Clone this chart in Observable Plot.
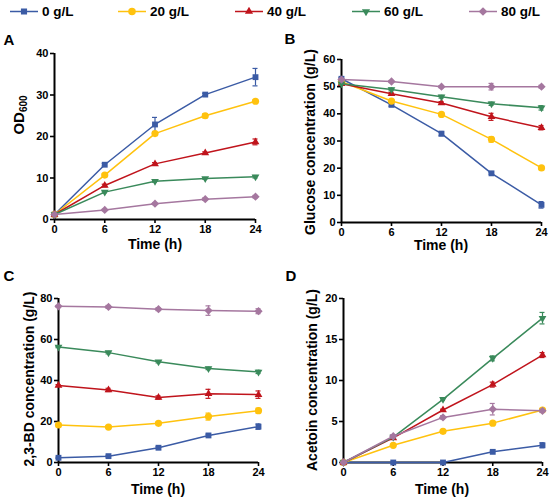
<!DOCTYPE html>
<html><head><meta charset="utf-8">
<script src="https://cdn.jsdelivr.net/npm/d3@7"></script>
<script src="https://cdn.jsdelivr.net/npm/@observablehq/plot@0.6"></script>
<style>
body{margin:0;background:#fff;}
#root{position:relative;width:550px;height:500px;font-family:"Liberation Sans",Arial,sans-serif;font-weight:bold;color:#000;overflow:hidden;}
.pl{position:absolute;}
.pl svg{overflow:visible;}
.lbl{position:absolute;white-space:nowrap;transform:translate(-50%,-50%);line-height:1;}
.ylab{position:absolute;white-space:nowrap;transform:translate(-50%,-50%) rotate(-90deg);font-size:14px;line-height:1;}
.leg{position:absolute;display:flex;align-items:center;font-size:13.5px;white-space:nowrap;transform:translateY(-50%);}
.leg svg{margin-right:4px;}
sub{font-size:10px;vertical-align:-3px;}
</style></head>
<body><div id="root"></div>
<script>
// ---- data ----
const concentrations = ["0 g/L", "20 g/L", "40 g/L", "60 g/L", "80 g/L"];
const colors = ["#3B5BA5", "#FFC20E", "#C0141C", "#3A8A5B", "#A5779F"];
const times = [0, 6, 12, 18, 24];

const od600 = [
  [1.2, 13.2, 22.9, 30.1, 34.3],
  [1.2, 10.7, 20.7, 25.0, 28.5],
  [1.2, 8.2, 13.4, 16.0, 18.7],
  [1.2, 6.6, 9.2, 9.9, 10.3],
  [1.2, 2.3, 3.8, 4.9, 5.5]
];
const od600Err = [
  [0.1, 0.3, 1.7, 0.3, 2.1],
  [0.1, 0.3, 0.3, 0.5, 0.3],
  [0.1, 0.3, 0.3, 0.3, 0.7],
  [0.1, 0.2, 0.2, 0.2, 0.3],
  [0.1, 0.2, 0.2, 0.3, 0.3]
];
const glucose = [
  [52.9, 43.3, 32.7, 18.1, 6.5],
  [51.8, 44.7, 39.8, 30.6, 20.1],
  [51.1, 47.4, 44.0, 38.9, 34.9],
  [51.1, 49.0, 46.3, 43.7, 42.2],
  [52.6, 51.9, 50.0, 50.0, 50.0]
];
const glucoseErr = [
  [0.5, 0.5, 0.8, 0.3, 1.2],
  [0.3, 0.5, 0.5, 1.0, 0.6],
  [0.3, 0.5, 0.5, 1.3, 0.8],
  [0.3, 0.5, 0.5, 0.6, 0.8],
  [0.3, 0.4, 0.4, 1.2, 0.5]
];
const butanediol = [
  [2.3, 3.1, 7.2, 13.2, 17.5],
  [18.3, 17.3, 19.1, 22.4, 25.3],
  [37.6, 35.4, 31.7, 33.5, 33.1],
  [56.3, 53.6, 49.1, 45.9, 44.2],
  [76.2, 75.9, 74.8, 74.1, 73.8]
];
const butanediolErr = [
  [0.3, 0.4, 0.5, 0.6, 1.3],
  [0.4, 0.6, 0.6, 1.7, 1.2],
  [0.4, 0.8, 0.8, 2.2, 1.8],
  [0.3, 0.6, 0.5, 0.6, 0.8],
  [0.4, 0.7, 0.7, 2.3, 1.2]
];
const acetoin = [
  [0, 0, 0, 1.3, 2.1],
  [0, 2.1, 3.8, 4.8, 6.4],
  [0, 3.0, 6.4, 9.5, 13.1],
  [0, 3.1, 7.7, 12.7, 17.6],
  [0, 3.2, 5.5, 6.5, 6.3]
];
const acetoinErr = [
  [0, 0, 0, 0.1, 0.3],
  [0, 0.1, 0.1, 0.1, 0.2],
  [0, 0.1, 0.1, 0.3, 0.3],
  [0, 0.1, 0.1, 0.3, 0.7],
  [0, 0.2, 0.2, 0.7, 0.2]
];
const panelLetters = ["A", "B", "C", "D"];
const yTitles = ["OD<sub>600</sub>", "Glucose concentration (g/L)", "2,3-BD concentration (g/L)", "Acetoin concentration (g/L)"];
const xTitle = "Time (h)";
const yTicksA = [0, 10, 20, 30, 40];
const yTicksB = [0, 10, 20, 30, 40, 50, 60];
const yTicksC = [0, 20, 40, 60, 80];
const yTicksD = [0, 5, 10, 15, 20];

// ---- symbols ----
const triangleDown = {
  draw(context, size) {
    const y = -Math.sqrt(size / (Math.sqrt(3) * 3));
    context.moveTo(0, -y * 2);
    context.lineTo(-Math.sqrt(3) * y, y);
    context.lineTo(Math.sqrt(3) * y, y);
    context.closePath();
  }
};
const diamondSq = {
  draw(context, size) {
    const r = Math.sqrt(size / 2);
    context.moveTo(0, -r);
    context.lineTo(r, 0);
    context.lineTo(0, r);
    context.lineTo(-r, 0);
    context.closePath();
  }
};
const symbols = [d3.symbolSquare, d3.symbolCircle, d3.symbolTriangle, triangleDown, diamondSq];
const symbolR = [3.3, 3.6, 2.9, 2.9, 3.3];

const root = document.getElementById("root");

// ---- legend ----
const legendLeft = [10, 118, 235, 352, 469];
concentrations.forEach((c, i) => {
  const div = document.createElement("div");
  div.className = "leg";
  div.style.left = legendLeft[i] + "px";
  div.style.top = "11px";
  const size = symbolR[i] * symbolR[i] * Math.PI * 1.1;
  const path = d3.symbol(symbols[i], size)();
  div.innerHTML = `<svg width="28" height="12" viewBox="0 0 28 12"><line x1="0" x2="28" y1="6" y2="6" stroke="${colors[i]}" stroke-width="1.6"/><path d="${path}" transform="translate(14,6)" fill="${colors[i]}"/></svg><span>${c}</span>`;
  root.appendChild(div);
});

// ---- panels ----
const panels = [
  {values: od600, errors: od600Err, domain: [0, 40], ticks: yTicksA, left: 0, top: 30, height: 220, mL: 54, mR: 20, mT: 23, mB: 31,
   letter: [9, 39], xt: [155, 244], yt: [20, 115]},
  {values: glucose, errors: glucoseErr, domain: [0, 60], ticks: yTicksB, left: 275, top: 30, height: 220, mL: 66, mR: 9, mT: 29, mB: 28,
   letter: [290, 38], xt: [441, 245], yt: [310, 142]},
  {values: butanediol, errors: butanediolErr, domain: [0, 80], ticks: yTicksC, left: 0, top: 280, height: 220, mL: 58, mR: 17, mT: 18, mB: 38,
   letter: [9, 275], xt: [158, 489], yt: [29, 379]},
  {values: acetoin, errors: acetoinErr, domain: [0, 20], ticks: yTicksD, left: 275, top: 280, height: 220, mL: 68, mR: 8, mT: 18, mB: 38,
   letter: [291, 275], xt: [442, 489], yt: [312, 380]}
];

panels.forEach((p, k) => {
  const marks = [];
  marks.push(Plot.ruleY([p.domain[0]], {stroke: "#000", strokeWidth: 2}));
  marks.push(Plot.ruleX([0], {stroke: "#000", strokeWidth: 2}));
  marks.push(Plot.axisX({ticks: times, tickSize: 4, tickPadding: 2, label: null, strokeWidth: 1.6, tickFormat: d => d}));
  marks.push(Plot.axisY({ticks: p.ticks, tickSize: 4, tickPadding: 2, label: null, strokeWidth: 1.6, tickFormat: d => d}));
  concentrations.forEach((c, i) => {
    const rows = times.map((t, j) => ({conc: c, t, v: p.values[i][j], e: p.errors[i][j]}));
    const errRows = rows.filter(d => d.e > 0);
    marks.push(Plot.line(rows, {x: "t", y: "v", stroke: colors[i], strokeWidth: 1.5}));
    marks.push(Plot.ruleX(errRows, {x: "t", y1: d => d.v - d.e, y2: d => d.v + d.e, stroke: colors[i], strokeWidth: 1.2}));
    marks.push(Plot.ruleY(errRows, {y: d => d.v + d.e, x1: d => d.t - 0.3, x2: d => d.t + 0.3, stroke: colors[i], strokeWidth: 1.2}));
    marks.push(Plot.ruleY(errRows, {y: d => d.v - d.e, x1: d => d.t - 0.3, x2: d => d.t + 0.3, stroke: colors[i], strokeWidth: 1.2}));
    marks.push(Plot.dot(rows, {x: "t", y: "v", symbol: symbols[i], r: symbolR[i], fill: colors[i], stroke: "none"}));
  });
  const svg = Plot.plot({
    width: 275, height: p.height,
    marginLeft: p.mL, marginRight: p.mR, marginTop: p.mT, marginBottom: p.mB,
    x: {domain: [0, 24]},
    y: {domain: p.domain},
    style: {fontFamily: '"Liberation Sans", Arial, sans-serif', fontWeight: "bold", fontSize: "11px", color: "#000", background: "transparent", overflow: "visible"},
    marks
  });
  const wrap = document.createElement("div");
  wrap.className = "pl";
  wrap.style.left = p.left + "px";
  wrap.style.top = p.top + "px";
  wrap.appendChild(svg);
  root.appendChild(wrap);

  const L = document.createElement("div");
  L.className = "lbl"; L.style.fontSize = "15px";
  L.style.left = p.letter[0] + "px"; L.style.top = p.letter[1] + "px";
  L.textContent = panelLetters[k];
  root.appendChild(L);

  const X = document.createElement("div");
  X.className = "lbl"; X.style.fontSize = "14px";
  X.style.left = p.xt[0] + "px"; X.style.top = p.xt[1] + "px";
  X.textContent = xTitle;
  root.appendChild(X);

  const Y = document.createElement("div");
  Y.className = "ylab";
  Y.style.left = p.yt[0] + "px"; Y.style.top = p.yt[1] + "px";
  if (k === 0) { Y.style.fontSize = "15px"; }
  Y.innerHTML = yTitles[k];
  root.appendChild(Y);
});
</script>
</body></html>
